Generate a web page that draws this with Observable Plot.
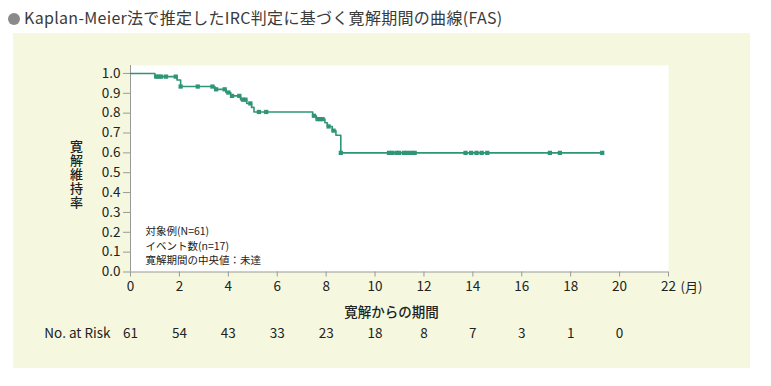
<!DOCTYPE html>
<html><head><meta charset="utf-8">
<script src="https://cdn.jsdelivr.net/npm/d3@7"></script>
<script src="https://cdn.jsdelivr.net/npm/@observablehq/plot@0.6"></script>
<style>
html,body{margin:0;padding:0;background:#fff;}
#wrap{position:relative;width:771px;height:386px;overflow:hidden;font-family:"Noto Sans CJK JP","Noto Sans",sans-serif;}
#panel{position:absolute;left:13px;top:33px;width:737px;height:335px;background:#f5f8df;}
#title{position:absolute;left:8px;top:5px;font-size:16px;color:#3a3a3a;white-space:nowrap;letter-spacing:0.3px;}
#title .dot{display:inline-block;width:12px;height:12px;border-radius:50%;background:#8a8a8a;margin-right:4px;vertical-align:-1px;}
#chart{position:absolute;left:0;top:0;}
</style></head>
<body>
<div id="wrap">
  <div id="panel"></div>
  <div id="title"><span class="dot"></span>Kaplan-Meier法で推定したIRC判定に基づく寛解期間の曲線(FAS)</div>
  <div id="chart"></div>
</div>
<script>
// Step curve (months, survival after step)
const stepTimes = [0, 1.0, 1.9, 2.05, 3.45, 3.9, 4.1, 4.5, 4.75, 4.95, 5.05, 7.45, 7.6, 7.95, 8.05, 8.25, 8.4, 8.6, 19.3];
const stepSurv  = [1.0, 0.984, 0.967, 0.934, 0.920, 0.904, 0.887, 0.868, 0.849, 0.829, 0.806, 0.787, 0.770, 0.752, 0.733, 0.712, 0.689, 0.600, 0.600];
// Censored observation times
const censorTimes = [1.05, 1.15, 1.25, 1.45, 1.85, 2.05, 2.75, 3.35, 3.5, 3.85, 4.0, 4.15, 4.45, 4.6, 4.7, 4.9, 5.25, 5.55,
  7.5, 7.65, 7.75, 7.85, 8.1, 8.3, 8.6, 10.57, 10.7, 10.88, 10.98, 11.18, 11.32, 11.48, 11.62,
  13.7, 13.93, 14.15, 14.36, 14.59, 17.15, 17.56, 19.29];
const yTicks = [0, 0.1, 0.2, 0.3, 0.4, 0.5, 0.6, 0.7, 0.8, 0.9, 1.0];
const xTicks = [0, 2, 4, 6, 8, 10, 12, 14, 16, 18, 20, 22];
const riskTimes = [0, 2, 4, 6, 8, 10, 12, 14, 16, 18, 20];
const riskCounts = [61, 54, 43, 33, 23, 18, 8, 7, 3, 1, 0];
const notes = ["対象例(N=61)", "イベント数(n=17)", "寛解期間の中央値：未達"];
const yLabel = "寛解維持率";
const xLabel = "寛解からの期間";
const unitLabel = "(月)";
const riskLabel = "No. at Risk";

const green = "#2e9576";
const curve = stepTimes.map((t, i) => ({t, s: stepSurv[i]}));
function survAt(t) {
  let s = stepSurv[0];
  for (let i = 0; i < stepTimes.length; i++) if (stepTimes[i] <= t) s = stepSurv[i];
  return s;
}
const censors = censorTimes.map(t => ({t, s: survAt(t)}));
const risk = riskTimes.map((t, i) => ({t, n: riskCounts[i]}));
const font = "'Noto Sans CJK JP','Noto Sans',sans-serif";

const chart = Plot.plot({
  width: 771, height: 386,
  marginLeft: 130, marginRight: 103, marginTop: 65, marginBottom: 114.5,
  style: {background: "transparent", fontFamily: font, color: "#222"},
  x: {domain: [0, 22]},
  y: {domain: [0, 1.04]},
  marks: [
    Plot.frame({fill: "white", stroke: null}),
    Plot.axisY(yTicks, {tickFormat: ".1f", tickSize: 7, tickPadding: 3, fontSize: 13.5, stroke: "#999", fill: "#222", label: null}),
    Plot.axisX(xTicks, {tickSize: 5, tickPadding: 4, fontSize: 13.5, stroke: "#999", fill: "#222", label: null}),
    Plot.ruleX([0], {stroke: "#999"}),
    Plot.ruleY([0], {stroke: "#999"}),
    Plot.line(curve, {x: "t", y: "s", curve: "step-after", stroke: green, strokeWidth: 1.6}),
    Plot.dot(censors, {x: "t", y: "s", symbol: "square", r: 2.4, fill: green, stroke: null}),
    Plot.text([notes[0]], {frameAnchor: "bottom-left", dx: 15, dy: -37, fontSize: 10.5, fill: "#222", textAnchor: "start"}),
    Plot.text([notes[1]], {frameAnchor: "bottom-left", dx: 15, dy: -22, fontSize: 10.5, fill: "#222", textAnchor: "start"}),
    Plot.text([notes[2]], {frameAnchor: "bottom-left", dx: 15, dy: -8, fontSize: 10.5, fill: "#222", textAnchor: "start"}),
    Plot.text([yLabel], {frameAnchor: "left", dx: -54, dy: -3, fontSize: 13, fill: "#222", fontWeight: 500, textAnchor: "middle", lineAnchor: "top"}),
    Plot.text([xLabel], {frameAnchor: "bottom", dx: -8, dy: 45, fontSize: 13.5, fill: "#222", fontWeight: 500}),
    Plot.text([unitLabel], {x: [22], y: [0], dx: 12, dy: 16, fontSize: 13, textAnchor: "start", fill: "#222"}),
    Plot.text(risk, {x: "t", text: d => String(d.n), frameAnchor: "bottom", dy: 66, fontSize: 13.5, fill: "#222"}),
    Plot.text([riskLabel], {frameAnchor: "bottom-left", dx: -20, dy: 66, fontSize: 13.5, textAnchor: "end", fill: "#222"})
  ]
});
// set the y-axis title to upright vertical writing
chart.querySelectorAll("text").forEach(t => {
  if (t.textContent === yLabel) {
    t.style.writingMode = "vertical-rl";
    t.style.textOrientation = "upright";
    t.style.letterSpacing = "1px";
  }
});
document.getElementById("chart").appendChild(chart);
</script>
</body></html>
